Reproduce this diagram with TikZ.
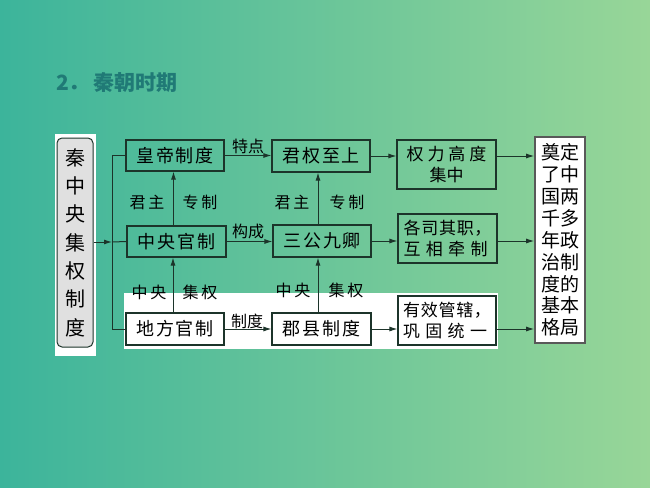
\documentclass[tikz,border=0pt]{standalone}
\usepackage{fontspec}
\setmainfont{Noto Sans CJK SC}
\usetikzlibrary{arrows.meta,calc}
\definecolor{bgL}{RGB}{60,180,155}
\definecolor{bgR}{RGB}{152,214,152}
\definecolor{ln}{RGB}{28,52,42}
\definecolor{ttl}{RGB}{32,122,118}
\newcommand\jz[2]{\makebox[#1][s]{#2}}
\begin{document}
\begin{tikzpicture}[x=1pt,y=-1pt,
  box/.style={draw=ln, line width=1.1pt, inner sep=0pt, font=\fontsize{18}{21}\selectfont},
  box2/.style={draw=ln, line width=1.1pt, inner sep=0pt, font=\fontsize{17}{21.5}\selectfont},
  lbl/.style={font=\fontsize{16}{18}\selectfont, text=black, inner sep=0pt},
  arr/.style={draw=ln, line width=1pt, -{Latex[length=8pt,width=5pt]}},
  lin/.style={draw=ln, line width=1pt}]
\shade[left color=bgL, right color=bgR] (0,0) rectangle (650,487);
\useasboundingbox (0,0) rectangle (650,487);
% white patches
\fill[white] (55,134) rectangle (96,356);
\fill[white] (124,293) rectangle (498,349);
% title
\node[anchor=west, text=ttl, font=\fontsize{21}{23}\selectfont\bfseries, inner sep=0pt] (title) at (56,83) {2．\hspace{4pt}秦朝时期};
% left box
\node[draw=ln, line width=1pt, fill=black!12, rounded corners=5pt, minimum width=36, minimum height=209, inner sep=0pt, align=center, font=\fontsize{20}{28.3}\selectfont] (qin) at (75,242.5) {秦\\中\\央\\集\\权\\制\\度};
% column 1
\node[box, minimum width=98, minimum height=31] (hd) at (175,155.5) {\jz{78pt}{皇\hfill 帝\hfill 制\hfill 度}};
\node[box, minimum width=99, minimum height=31] (zy) at (176.5,241.5) {\jz{78pt}{中\hfill 央\hfill 官\hfill 制}};
\node[box, minimum width=98, minimum height=32] (df) at (175,329) {\jz{78pt}{地\hfill 方\hfill 官\hfill 制}};
% column 2
\node[box, minimum width=98, minimum height=32] (jq) at (321,156) {\jz{78pt}{君\hfill 权\hfill 至\hfill 上}};
\node[box, minimum width=98, minimum height=32] (sg) at (322,241) {\jz{78pt}{三\hfill 公\hfill 九\hfill 卿}};
\node[box, minimum width=99, minimum height=32] (jx) at (321.5,329) {\jz{78pt}{郡\hfill 县\hfill 制\hfill 度}};
% column 3
\node[box2, minimum width=99, minimum height=49, align=center] (ql) at (446.5,164.5) {\jz{80pt}{权\hfill 力\hfill 高\hfill 度}\\集中};
\node[box2, minimum width=99, minimum height=49, align=left] (gs) at (447.5,238.5) {\jz{88pt}{各\hfill 司\hfill 其\hfill 职\hfill ，}\\\jz{84pt}{互\hfill 相\hfill 牵\hfill 制}};
\node[box2, minimum width=98, minimum height=49, align=left] (yx) at (447,320.5) {\jz{88pt}{有\hfill 效\hfill 管\hfill 辖\hfill ，}\\\jz{84pt}{巩\hfill 固\hfill 统\hfill 一}};
% right box
\node[draw=black!65, line width=1.6pt, fill=white, minimum width=50, minimum height=206, inner sep=0pt, align=center, font=\fontsize{19}{21.9}\selectfont] (rb) at (560,240) {奠定\\了中\\国两\\千多\\年政\\治制\\度的\\基本\\格局};
% left bus
\coordinate (bus) at (112,242);
\draw[arr] (qin.east |- bus) -- (bus);
\draw[lin] (bus |- hd.west) -- (bus |- df.west);
\draw[lin] (bus |- hd.west) -- (hd.west);
\draw[lin] (bus) -- (zy.west);
\draw[lin] (bus |- df.west) -- (df.west);
% vertical arrows
\draw[arr] ([xshift=-3pt]zy.north) -- ([xshift=-3pt]zy.north |- hd.south);
\draw[arr] ([xshift=-2pt]df.north) -- ([xshift=-2pt]df.north |- zy.south);
\draw[arr] ([xshift=-4pt]sg.north) -- ([xshift=-4pt]sg.north |- jq.south);
\draw[arr] ([xshift=-3.5pt]jx.north) -- ([xshift=-3.5pt]jx.north |- sg.south);
% horizontal arrows
\draw[arr] (hd.east) -- (hd.east -| jq.west);
\draw[arr] (zy.east) -- (zy.east -| sg.west);
\draw[arr] (df.east) -- (df.east -| jx.west);
\draw[arr] (jq.east) -- (jq.east -| ql.west);
\draw[arr] (sg.east) -- (sg.east -| gs.west);
\draw[arr] (jx.east) -- (jx.east -| yx.west);
\draw[arr] (ql.east |- jq.east) -- (jq.east -| rb.west);
\draw[arr] (gs.east |- sg.east) -- (sg.east -| rb.west);
\draw[arr] (yx.east |- jx.east) -- (jx.east -| rb.west);
% labels
\node[lbl] (tedian) at (248,146) {特点};
\node[lbl] (goucheng) at (248,231) {构成};
\node[lbl] (zhidu) at (247,321) {制度};
\node[lbl] (a1) at (147,202) {君\hspace{3pt}主};
\node[lbl] (a2) at (200,202) {专\hspace{3pt}制};
\node[lbl] (a3) at (149,292) {中\hspace{3pt}央};
\node[lbl] (a4) at (200,292) {集\hspace{3pt}权};
\node[lbl] (b1) at (292,202) {君\hspace{3pt}主};
\node[lbl] (b2) at (347,202) {专\hspace{3pt}制};
\node[lbl] (b3) at (293,290) {中\hspace{3pt}央};
\node[lbl] (b4) at (346,290) {集\hspace{3pt}权};
\end{tikzpicture}
\end{document}
